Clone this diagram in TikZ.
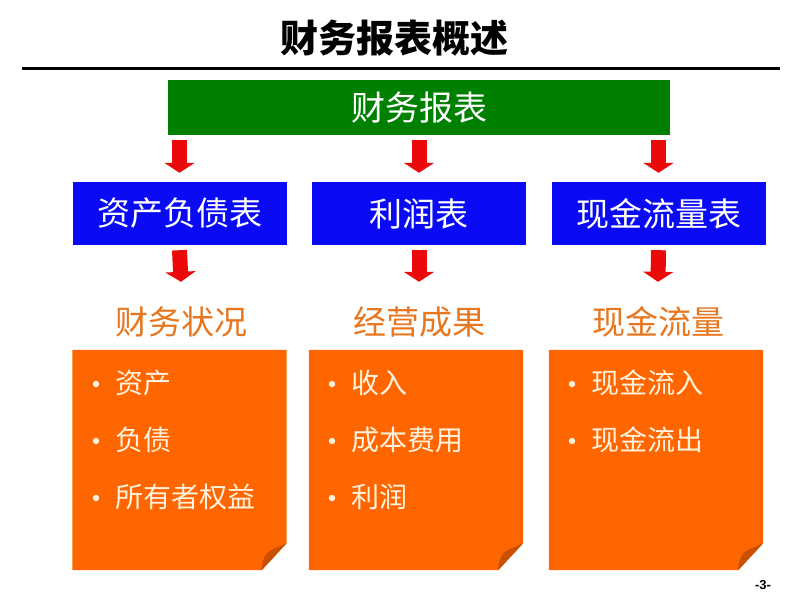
\documentclass[tikz,border=0pt]{standalone}
\usepackage{fontspec}
\usetikzlibrary{arrows.meta,calc}
\newfontfamily\cjk{Noto Sans CJK SC}
\newfontfamily\pnfont{Liberation Sans}
\definecolor{hdgreen}{RGB}{0,128,0}
\definecolor{hdblue}{RGB}{10,10,245}
\definecolor{boxorange}{RGB}{255,102,0}
\definecolor{foldorange}{RGB}{200,80,0}
\definecolor{lblorange}{RGB}{232,118,30}
\definecolor{arrred}{RGB}{235,10,10}
\definecolor{cream}{RGB}{255,242,222}
\tikzset{
  greenbox/.style={fill=hdgreen, text=white, inner sep=0pt, minimum width=502pt, minimum height=55pt, font=\cjk\fontsize{34pt}{40pt}\selectfont},
  bluebox/.style={fill=hdblue, text=white, inner sep=0pt, minimum width=214pt, minimum height=63pt, font=\cjk\fontsize{33pt}{40pt}\selectfont},
  lbl/.style={text=lblorange, inner sep=0pt, minimum height=40pt, font=\cjk\fontsize{33pt}{40pt}\selectfont},
  obox/.style={inner sep=0pt, minimum width=214pt, minimum height=220pt},
  item/.style={text=cream, anchor=west, inner sep=0pt, font=\cjk\fontsize{28pt}{34pt}\selectfont},
  bigarrow/.style={draw=arrred, line width=15pt, -{Triangle[width=30pt,length=10pt,fill=arrred]}},
}
\newcommand{\foldbox}[1]{%
  \fill[boxorange] (#1.north west) -- (#1.north east) -- ($(#1.south east)+(0,-27)$) -- ($(#1.south east)+(-25,0)$) -- (#1.south west) -- cycle;
  \fill[foldorange] ($(#1.south east)+(0,-27)$) -- ($(#1.south east)+(-16,-20)$) .. controls ($(#1.south east)+(-22,-17)$) and ($(#1.south east)+(-25,-8)$) .. ($(#1.south east)+(-25,0)$) -- cycle;
}
\begin{document}
\begin{tikzpicture}[x=1pt,y=-1pt]
\useasboundingbox (0,0) rectangle (800,600);
\fill[white] (0,0) rectangle (800,600);
% title
\node[inner sep=0pt, font=\cjk\bfseries\fontsize{38pt}{44pt}\selectfont] (title) at (394,38) {财务报表概述};
\draw[line width=2.5pt] (22,68.5) -- (780,68.5);
% top box
\node[greenbox] (g) at (419,107.5) {财务报表};
% blue boxes
\node[bluebox] (b1) at (179.5,213.5) {资产负债表};
\node[bluebox] (b2) at (419,213.5) {利润表};
\node[bluebox] (b3) at (658.5,213.5) {现金流量表};
% labels
\node[lbl] (l1) at (181,322) {财务状况};
\node[lbl] (l2) at (419,322) {经营成果};
\node[lbl] (l3) at (658,322) {现金流量};
% arrows
\draw[bigarrow] ([yshift=-5pt]g.south -| b1) -- ([yshift=9pt]b1.north);
\draw[bigarrow] ([yshift=-5pt]g.south -| b2) -- ([yshift=9pt]b2.north);
\draw[bigarrow] ([yshift=-5pt]g.south -| b3) -- ([yshift=9pt]b3.north);
\draw[bigarrow] ([yshift=-5pt]b1.south) -- ([yshift=20pt]l1.north);
\draw[bigarrow] ([yshift=-5pt]b2.south) -- ([yshift=20pt]l2.north);
\draw[bigarrow] ([yshift=-5pt]b3.south) -- ([yshift=20pt]l3.north);
% orange boxes
\node[obox] (o1) at (179.5,460) {};
\node[obox] (o2) at (416,460) {};
\node[obox] (o3) at (656,460) {};
\foldbox{o1}
\foldbox{o2}
\foldbox{o3}
% items
\fill[cream] (96,384) circle (3.2);
\fill[cream] (96,441) circle (3.2);
\fill[cream] (96,498) circle (3.2);
\node[item] (i11) at (115,383) {资产};
\node[item] (i12) at (115,440) {负债};
\node[item] (i13) at (115,497) {所有者权益};
\fill[cream] (332,384) circle (3.2);
\fill[cream] (332,441) circle (3.2);
\fill[cream] (332,498) circle (3.2);
\node[item] (i21) at (351,383) {收入};
\node[item] (i22) at (351,440) {成本费用};
\node[item] (i23) at (351,497) {利润};
\fill[cream] (572,384) circle (3.2);
\fill[cream] (572,441) circle (3.2);
\node[item] (i31) at (591,383) {现金流入};
\node[item] (i32) at (591,440) {现金流出};
% page number
\node[inner sep=0pt, font=\pnfont\bfseries\fontsize{13pt}{15pt}\selectfont] (pn) at (763,585) {-3-};
\end{tikzpicture}
\end{document}
